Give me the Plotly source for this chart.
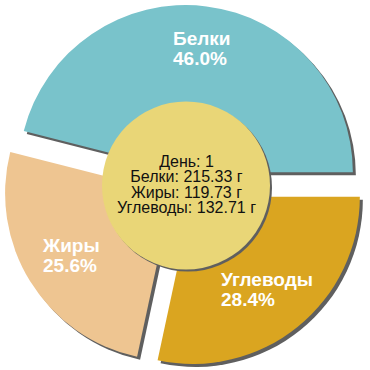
import math
import plotly.graph_objects as go

# ---- data ----
categories = ["Белки", "Жиры", "Углеводы"]
grams = [215.33, 119.73, 132.71]
day_label = "День: 1"
unit = "г"
colors = ["#79C3CB", "#EEC591", "#DAA520"]

# ---- layout constants ----
W = H = 370
PULL = 0.083
CX, CY = 184.0, 186.0          # pie centre in px (top-left origin)
HALF = 181.0                   # half size of domain in px
R = HALF / (1 + PULL)          # slice radius as plotly computes it
SHADOW = 3
SHADOW_COL = "#5F5F5F"
LABEL_R = [0.745, 0.71, 0.71]  # label distance from pulled slice centre, fraction of R

total = sum(grams)
fracs = [g / total for g in grams]
# first slice runs counter-clockwise from 3 o'clock; plotly anchors its end at `rotation`
ROT = 90 - fracs[0] * 360


def dom(cx, cy):
    return dict(x=[(cx - HALF) / W, (cx + HALF) / W],
                y=[1 - (cy + HALF) / H, 1 - (cy - HALF) / H])


fig = go.Figure()
for is_shadow in (True, False):
    off = SHADOW if is_shadow else 0
    fig.add_trace(go.Pie(labels=categories, values=grams, sort=False,
                         direction="counterclockwise", rotation=ROT,
                         pull=[PULL] * len(grams),
                         marker=dict(colors=[SHADOW_COL] * len(grams) if is_shadow else colors,
                                     line=dict(width=0)),
                         textinfo="none", hoverinfo="skip" if is_shadow else "label+value",
                         showlegend=False,
                         domain=dom(CX + off, CY + off)))

# centre disc (with shadow)
CR = 84.0
DCX, DCY = 186.0, 185.5
for off, col in [(2, SHADOW_COL), (0, "#E9D677")]:
    fig.add_shape(type="circle", xref="paper", yref="paper",
                  x0=(DCX - CR + off) / W, x1=(DCX + CR + off) / W,
                  y0=1 - (DCY + CR + off) / H, y1=1 - (DCY - CR + off) / H,
                  fillcolor=col, line=dict(width=0), layer="above")

FONT = "Liberation Sans, Arial, sans-serif"
start = 0.0
for name, frac, lr in zip(categories, fracs, LABEL_R):
    mid = math.radians((start + frac / 2) * 360)
    start += frac
    px = CX + (PULL + lr) * R * math.cos(mid)
    py = CY - (PULL + lr) * R * math.sin(mid)
    txt = (f'<span style="font-size:19px">{name}</span><br>'
           f'<span style="font-size:19px">{frac*100:.1f}%</span>')
    fig.add_annotation(x=px / W, y=1 - py / H, xref="paper", yref="paper",
                       text=txt, showarrow=False, align="left",
                       xanchor="center", yanchor="middle",
                       font=dict(family=FONT, size=15.4, color="white", weight="bold"))

lines = [day_label] + [f"{n}: {g:.2f} {unit}" for n, g in zip(categories, grams)]
center_txt = "<br>".join(f'<span style="font-size:16px">{l}</span>' for l in lines)
fig.add_annotation(x=DCX / W, y=1 - 184.5 / H, xref="paper", yref="paper",
                   text=center_txt, showarrow=False, align="center",
                   xanchor="center", yanchor="middle",
                   font=dict(family=FONT, size=11.9, color="#111111"))

fig.update_layout(width=W, height=H, autosize=False,
                  margin=dict(l=0, r=0, t=0, b=0),
                  paper_bgcolor="white", plot_bgcolor="white")
fig.write_html("out.html",
               config={"displayModeBar": False},
               post_script="document.body.style.margin='0';"
                           "document.body.style.overflow='hidden';")
